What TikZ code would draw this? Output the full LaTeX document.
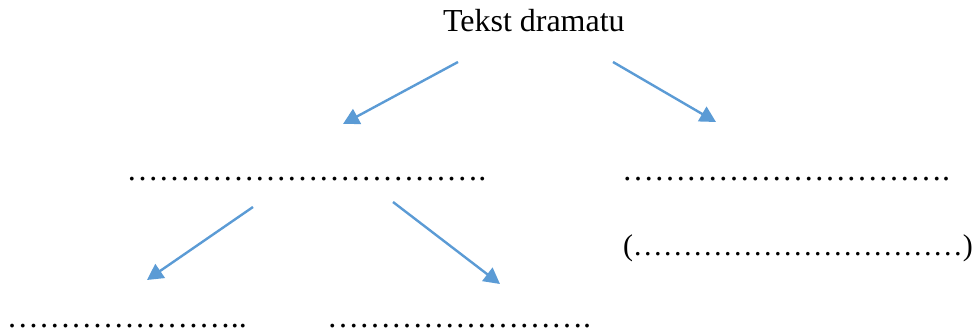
\documentclass[tikz,border=0pt]{standalone}
\usepackage{fontspec}
\setmainfont{Liberation Serif}
\usepackage{tikz}
\usetikzlibrary{arrows.meta, positioning, calc}
\definecolor{arrblue}{RGB}{91,155,213}
\newcommand{\el}{…}
\newcommand{\elrow}[1]{\foreach \i in {1,...,#1}{\el}}
\tikzset{
  lbl/.style={anchor=base west, inner sep=0pt, outer sep=0pt, font=\fontsize{24}{28}\selectfont},
  arr/.style={draw=arrblue, line width=1.8pt, -{Triangle[length=12pt,width=12.5pt]}}
}
\begin{document}
\begin{tikzpicture}[x=0.75pt, y=-0.75pt]
\useasboundingbox (0,0) rectangle (972,331);
\node [lbl] (title) at (443,32) {Tekst dramatu};
\node [lbl] (leftlvl) at (126.5,180.5) {\elrow{11}.};
\node [lbl] (rightlvl) at (622,180.5) {\elrow{10}.};
\node [lbl, font=\fontsize{22.5}{27}\selectfont] (rightpar) at (623,255.5) {(\elrow{11})};
\node [lbl] (leftleaf) at (7,328) {\elrow{7}..};
\node [lbl] (rightleaf) at (327,328) {\elrow{8}.};
\coordinate (a1) at (458,62);
\coordinate (a2) at (343,124);
\coordinate (b1) at (613,62);
\coordinate (b2) at (716,122);
\coordinate (c1) at (253,207);
\coordinate (c2) at (147,280);
\coordinate (d1) at (393,202);
\coordinate (d2) at (500,284);
\draw [arr] (a1) -- (a2);
\draw [arr] (b1) -- (b2);
\draw [arr] (c1) -- (c2);
\draw [arr] (d1) -- (d2);
\end{tikzpicture}
\end{document}
